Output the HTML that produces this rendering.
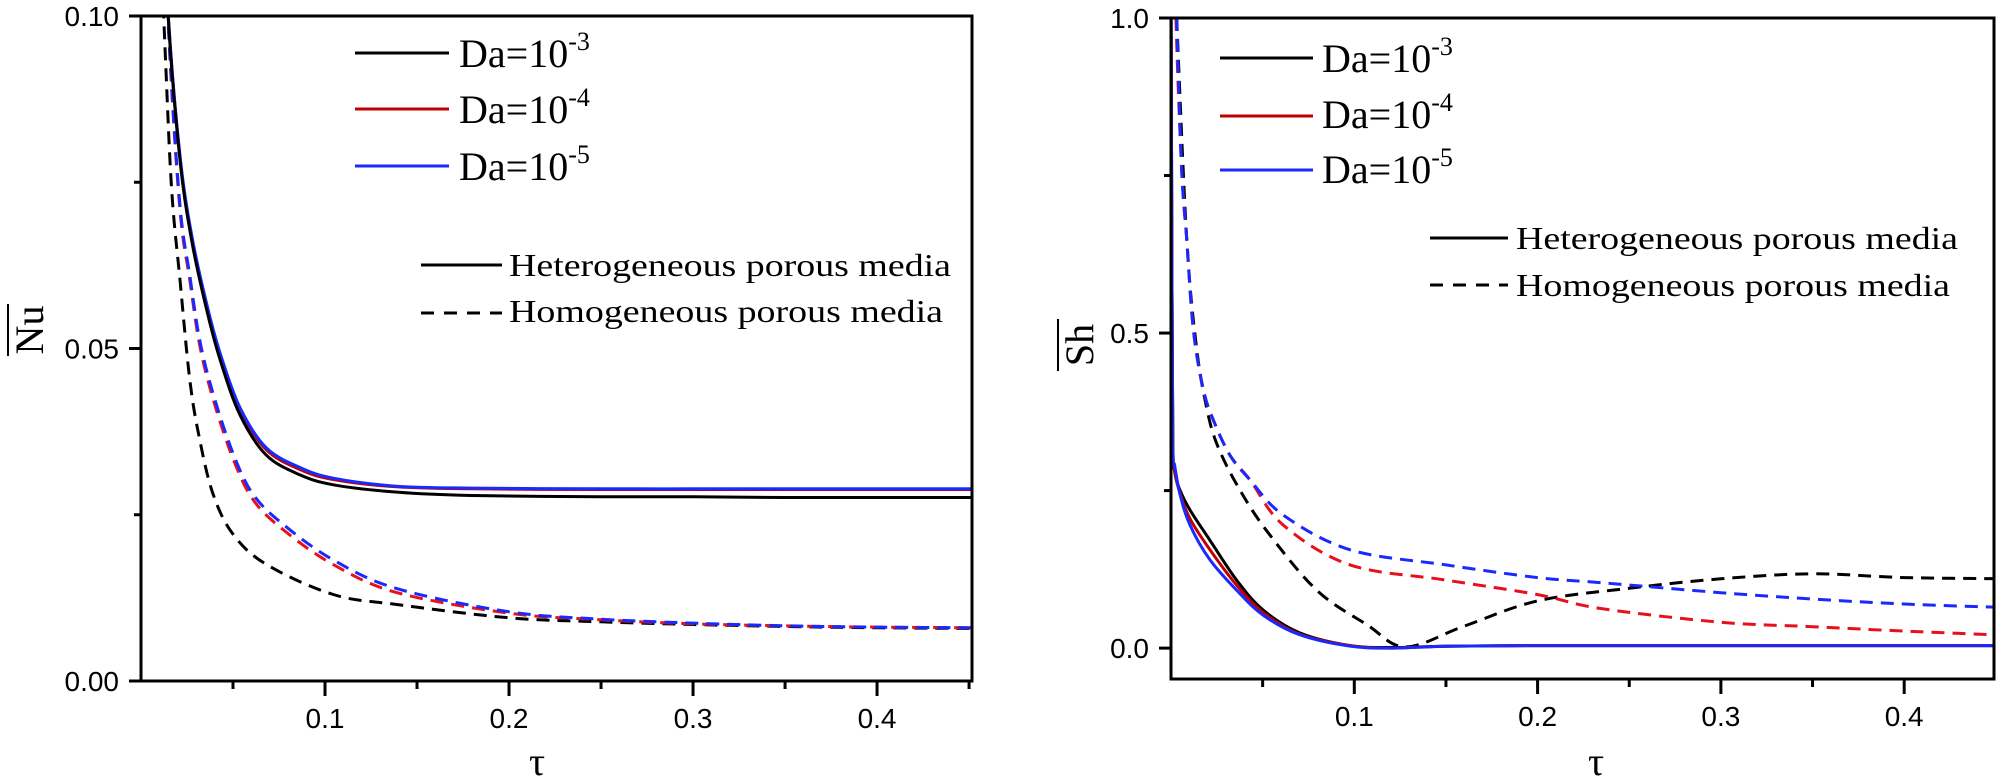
<!DOCTYPE html>
<html><head><meta charset="utf-8"><style>
html,body{margin:0;padding:0;background:#fff;}
svg{display:block;}
text{font-family:"Liberation Sans",sans-serif;}
.serif{font-family:"Liberation Serif",serif;}
</style></head><body>
<svg id="chart" width="2000" height="781" viewBox="0 0 2000 781" xmlns="http://www.w3.org/2000/svg">
<defs>
<clipPath id="clipL"><rect x="141" y="16" width="831" height="665"/></clipPath>
<clipPath id="clipR"><rect x="1171" y="18" width="823" height="661"/></clipPath>
</defs>
<g id="left"></g>
<g id="right"></g>
</svg>
<script>
// ---- Left panel data (Nu vs tau) ----
const nuTau_het = [0.010,0.0149,0.0212,0.0275,0.0357,0.043,0.0538,0.068,0.0864,0.1045,0.139,0.18,0.25,0.3,0.35,0.4,0.46];
const nu_het_da3 = [0.13,0.0994,0.0783,0.0663,0.0558,0.0483,0.0400,0.0340,0.0310,0.0295,0.0284,0.0279,0.0277,0.0277,0.0276,0.0276,0.0276];
const nu_het_da4 = [0.13,0.0996,0.0787,0.0668,0.0564,0.0490,0.0408,0.0348,0.0318,0.0303,0.0292,0.0289,0.0288,0.0288,0.0288,0.0288,0.0288];
const nu_het_da5 = [0.13,0.0998,0.0790,0.0671,0.0567,0.0493,0.0411,0.0351,0.0321,0.0305,0.0293,0.0290,0.0289,0.0289,0.0289,0.0289,0.0289];
const nuTau_hom = [0.010,0.0155,0.0212,0.0265,0.0319,0.0393,0.0502,0.0611,0.0775,0.1045,0.139,0.2,0.25,0.3,0.35,0.4,0.46];
const nu_hom_da4 = [0.13,0.0949,0.0708,0.0603,0.0505,0.0423,0.0333,0.0272,0.0227,0.0175,0.0133,0.0102,0.0092,0.0086,0.0083,0.0081,0.0080];
const nu_hom_da5 = [0.13,0.0953,0.0715,0.0610,0.0513,0.0431,0.0341,0.0280,0.0235,0.0182,0.0139,0.0104,0.0093,0.0087,0.0083,0.0081,0.0080];
const nuTau_hom3 = [0.008,0.0131,0.0167,0.0212,0.0265,0.0319,0.0393,0.0502,0.0683,0.1045,0.139,0.2,0.25,0.3,0.35,0.4,0.46];
const nu_hom_da3 = [0.13,0.0949,0.0738,0.0603,0.0453,0.0363,0.0280,0.0220,0.0175,0.0130,0.0115,0.0095,0.0089,0.0085,0.0082,0.0080,0.0079];
const nuTicks = [0,0.05,0.10];
const nuTickLabels = ["0.00","0.05","0.10"];
const tauTicks = [0.1,0.2,0.3,0.4];
const tauTickLabels = ["0.1","0.2","0.3","0.4"];

// ---- Right panel data (Sh vs tau) ----
const shTau_het = [0.0,0.0005,0.001,0.002,0.005,0.0104,0.0213,0.0358,0.0504,0.0704,0.0977,0.12,0.15,0.2,0.3,0.4,0.46];
const sh_het_da3 = [1.05,0.60,0.33,0.28,0.25,0.219,0.171,0.108,0.060,0.024,0.004,0.001,0.003,0.004,0.004,0.004,0.004];
const sh_het_da4 = [1.05,0.60,0.33,0.28,0.245,0.205,0.156,0.100,0.056,0.022,0.004,0.000,0.003,0.004,0.004,0.004,0.004];
const sh_het_da5 = [1.05,0.60,0.32,0.29,0.243,0.195,0.140,0.092,0.052,0.021,0.003,0.000,0.003,0.004,0.004,0.004,0.004];
const shTau_hom = [0.002,0.0031,0.0058,0.0086,0.0122,0.0177,0.0231,0.0322,0.0431,0.0613,0.0977,0.15,0.2,0.234,0.3,0.35,0.4,0.46];
const sh_hom_da4 = [1.10,0.96,0.76,0.648,0.505,0.410,0.362,0.306,0.267,0.195,0.132,0.108,0.085,0.063,0.041,0.034,0.027,0.020];
const sh_hom_da5 = [1.10,1.00,0.76,0.648,0.505,0.410,0.362,0.306,0.267,0.211,0.156,0.132,0.112,0.104,0.088,0.078,0.070,0.064];
const shTau_hom3 = [0.002,0.0031,0.0086,0.014,0.0195,0.0249,0.0358,0.052,0.0795,0.107,0.128,0.16,0.2,0.25,0.3,0.35,0.4,0.46];
const sh_hom_da3 = [1.10,1.00,0.648,0.475,0.381,0.325,0.260,0.187,0.092,0.037,0.002,0.035,0.075,0.095,0.110,0.118,0.112,0.110];
const shTicks = [0,0.5,1.0];
const shTickLabels = ["0.0","0.5","1.0"];

const NS = "http://www.w3.org/2000/svg";
function mk(tag, attrs, parent){
  const e = document.createElementNS(NS, tag);
  for (const k in attrs) e.setAttribute(k, attrs[k]);
  parent.appendChild(e);
  return e;
}
function smoothPath(pts){
  let d = 'M' + pts[0][0].toFixed(1) + ' ' + pts[0][1].toFixed(1);
  for (let i = 0; i < pts.length - 1; i++) {
    const p0 = pts[Math.max(0, i-1)], p1 = pts[i], p2 = pts[i+1], p3 = pts[Math.min(pts.length-1, i+2)];
    const c1x = p1[0] + (p2[0]-p0[0])/6, c1y = p1[1] + (p2[1]-p0[1])/6;
    const c2x = p2[0] - (p3[0]-p1[0])/6, c2y = p2[1] - (p3[1]-p1[1])/6;
    d += ' C' + c1x.toFixed(1) + ' ' + c1y.toFixed(1) + ' ' + c2x.toFixed(1) + ' ' + c2y.toFixed(1) + ' ' + p2[0].toFixed(1) + ' ' + p2[1].toFixed(1);
  }
  return d;
}

function panel(g, cfg){
  const {x0,x1,y0,y1,tmin,tmax,vmin,vmax,clip} = cfg;
  const X = t => x0 + (t - tmin)/(tmax - tmin)*(x1 - x0);
  const Y = v => y1 - (v - vmin)/(vmax - vmin)*(y1 - y0);
  const sg = mk('g', {'clip-path':'url(#'+clip+')'}, g);
  
  
  cfg.series.forEach(s => {
    const pts = s.t.map((t,i) => [X(t), Y(s.v[i])]);
    const p = mk('path', {d:smoothPath(pts), fill:'none', stroke:s.c, 'stroke-width':3, 'stroke-linejoin':'round'}, sg);
    if (s.dash) p.setAttribute('stroke-dasharray', '13 8');
    
    
  });
  const fr = mk('rect', {x:x0, y:y0, width:x1-x0, height:y1-y0, fill:'none', stroke:'#000', 'stroke-width':3}, g);
  
  
  cfg.yTicks.forEach((v,i) => {
    const l = mk('line', {x1:x0-12, x2:x0, y1:Y(v), y2:Y(v), stroke:'#000', 'stroke-width':3}, g);
    
    
    const t = mk('text', {x:x0-22, y:Y(v)+10, 'font-size':28, 'text-anchor':'end', fill:'#000'}, g);
    t.textContent = cfg.yLabels[i];
    
    
    if (i < cfg.yTicks.length-1) {
      const vm = (v + cfg.yTicks[i+1])/2;
      const m = mk('line', {x1:x0-7, x2:x0, y1:Y(vm), y2:Y(vm), stroke:'#000', 'stroke-width':3}, g);
      
      
    }
  });
  tauTicks.forEach((v,i) => {
    const l = mk('line', {x1:X(v), x2:X(v), y1:y1, y2:y1+15, stroke:'#000', 'stroke-width':3}, g);
    
    
    const t = mk('text', {x:X(v), y:y1+47, 'font-size':28, 'text-anchor':'middle', fill:'#000'}, g);
    t.textContent = tauTickLabels[i];
    
    
  });
  [0.05,0.15,0.25,0.35,0.45].forEach(v => {
    if (X(v) > x1 + 1) return;
    const m = mk('line', {x1:X(v), x2:X(v), y1:y1, y2:y1+8, stroke:'#000', 'stroke-width':3}, g);
    
    
  });
}

const L = document.getElementById('left');
panel(L, {x0:141, x1:972, y0:16, y1:681, tmin:0, tmax:0.4516, vmin:0, vmax:0.1, clip:'clipL',
  yTicks:nuTicks, yLabels:nuTickLabels,
  series:[
    {t:nuTau_hom3, v:nu_hom_da3, c:'#000', dash:true, name:'nu-homogeneous-da-1e-3'},
    {t:nuTau_hom, v:nu_hom_da4, c:'#e8101a', dash:true, name:'nu-homogeneous-da-1e-4'},
    {t:nuTau_hom, v:nu_hom_da5, c:'#1a2aff', dash:true, name:'nu-homogeneous-da-1e-5'},
    {t:nuTau_het, v:nu_het_da4, c:'#c00000', dash:false, name:'nu-heterogeneous-da-1e-4'},
    {t:nuTau_het, v:nu_het_da5, c:'#1a2aff', dash:false, name:'nu-heterogeneous-da-1e-5'},
    {t:nuTau_het, v:nu_het_da3, c:'#000', dash:false, name:'nu-heterogeneous-da-1e-3'}
  ]});
const R = document.getElementById('right');
panel(R, {x0:1171, x1:1994, y0:18, y1:679, tmin:0, tmax:0.449, vmin:-0.049, vmax:1.0, clip:'clipR',
  yTicks:shTicks, yLabels:shTickLabels,
  series:[
    {t:shTau_hom3, v:sh_hom_da3, c:'#000', dash:true, name:'sh-homogeneous-da-1e-3'},
    {t:shTau_hom, v:sh_hom_da4, c:'#e8101a', dash:true, name:'sh-homogeneous-da-1e-4'},
    {t:shTau_hom, v:sh_hom_da5, c:'#1a2aff', dash:true, name:'sh-homogeneous-da-1e-5'},
    {t:shTau_het, v:sh_het_da3, c:'#000', dash:false, name:'sh-heterogeneous-da-1e-3'},
    {t:shTau_het, v:sh_het_da4, c:'#c00000', dash:false, name:'sh-heterogeneous-da-1e-4'},
    {t:shTau_het, v:sh_het_da5, c:'#1a2aff', dash:false, name:'sh-heterogeneous-da-1e-5'}
  ]});

function axisTitles(g, tx, yx, yy, ol, label){
  const t = mk('text', {x:tx, y:775, 'font-size':40, 'text-anchor':'middle', class:'serif', fill:'#000'}, g);
  t.textContent = 'τ';
  
  
  const y = mk('text', {x:0, y:0, 'font-size':40, 'text-anchor':'middle', class:'serif', fill:'#000', transform:'translate('+yx+','+yy+') rotate(-90)'}, g);
  y.textContent = label;
  
  
  const o = mk('line', {x1:ol, x2:ol, y1:yy-26, y2:yy+26, stroke:'#000', 'stroke-width':2}, g);
  
  
}
axisTitles(L, 537, 43, 330, 8, 'Nu');
axisTitles(R, 1596, 1093, 345, 1058, 'Sh');

function legend(g, lx1, lx2, ys, tx, bases, cols, hx1, hx2, hy, htx, hb){
  const lg = mk('g', {}, g);
  
  
  const exps = ['-3','-4','-5'];
  ys.forEach((y,i) => {
    const l = mk('line', {x1:lx1, x2:lx2, y1:y, y2:y, stroke:cols[i], 'stroke-width':3}, lg);
    
    
    const t = mk('text', {x:tx, y:bases[i], 'font-size':40, class:'serif', fill:'#000'}, lg);
    
    
    t.appendChild(document.createTextNode('Da=10'));
    const s = mk('tspan', {dy:-17, 'font-size':26}, t);
    s.textContent = exps[i];
  });
  const labels = ['Heterogeneous porous media','Homogeneous porous media'];
  const lens = [442, 434];
  hy.forEach((y,i) => {
    const l = mk('line', {x1:hx1, x2:hx2, y1:y, y2:y, stroke:'#000', 'stroke-width':3}, lg);
    if (i === 1) l.setAttribute('stroke-dasharray', '13 10');
    
    
    const t = mk('text', {x:htx, y:hb[i], 'font-size':32, class:'serif', fill:'#000', textLength:lens[i], lengthAdjust:'spacingAndGlyphs'}, lg);
    t.textContent = labels[i];
    
    
  });
}
legend(L, 355, 449, [53,109,166], 459, [67,123,180], ['#000','#c00000','#1a2aff'],
       421, 502, [265,313], 509, [276,322]);
legend(R, 1220, 1313, [58,116,170], 1322, [72,128,183], ['#000','#c00000','#1a2aff'],
       1430, 1508, [238,285], 1516, [249,296]);
</script>
</body></html>
